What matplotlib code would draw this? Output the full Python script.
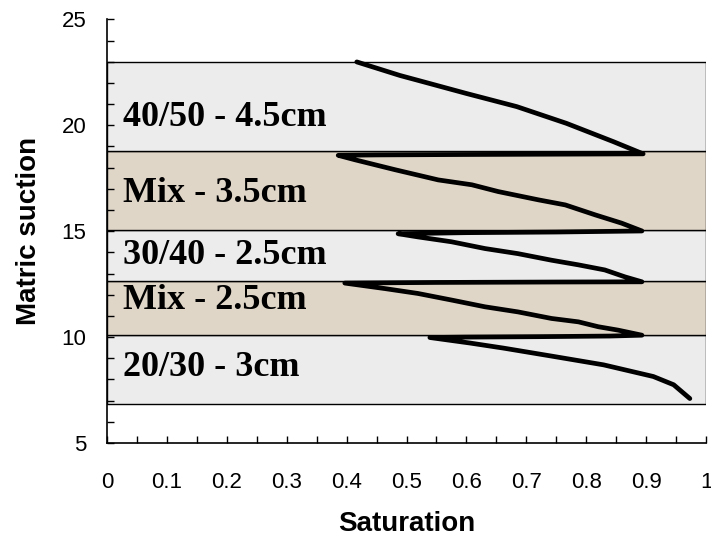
import matplotlib.pyplot as plt
from matplotlib.ticker import MultipleLocator

# soil layers (bottom, top, label, colour)
layer_bottom = [6.85, 10.1, 12.65, 15.05, 18.8]
layer_top = [10.1, 12.65, 15.05, 18.8, 23.0]
layer_label = ["20/30 - 3cm", "Mix - 2.5cm", "30/40 - 2.5cm", "Mix - 3.5cm", "40/50 - 4.5cm"]
layer_color = ["#ececec", "#e0d6c8", "#ececec", "#e0d6c8", "#ececec"]
label_y = [8.55, 11.75, 13.85, 16.8, 20.35]

# saturation profile
saturation = [0.417, 0.489, 0.527, 0.600, 0.684, 0.767, 0.845, 0.895,
              0.80, 0.60, 0.45, 0.386,
              0.414, 0.481, 0.553, 0.609, 0.653, 0.720, 0.765, 0.815, 0.859, 0.893,
              0.75, 0.60, 0.486,
              0.519, 0.575, 0.631, 0.686, 0.742, 0.787, 0.831, 0.865, 0.893,
              0.75, 0.55, 0.397,
              0.464, 0.519, 0.575, 0.631, 0.686, 0.742, 0.787, 0.820, 0.853, 0.893,
              0.84, 0.72, 0.60, 0.539,
              0.606, 0.662, 0.745, 0.829, 0.912, 0.946, 0.973]
suction = [22.99, 22.35, 22.06, 21.50, 20.88, 20.09, 19.23, 18.65,
           18.64, 18.62, 18.60, 18.58,
           18.37, 17.90, 17.42, 17.19, 16.87, 16.48, 16.24, 15.77, 15.38, 15.01,
           14.96, 14.93, 14.88,
           14.73, 14.50, 14.18, 13.94, 13.63, 13.41, 13.17, 12.84, 12.61,
           12.60, 12.58, 12.55,
           12.29, 12.06, 11.75, 11.43, 11.19, 10.88, 10.72, 10.49, 10.33, 10.09,
           10.05, 10.02, 10.00, 9.98,
           9.72, 9.48, 9.09, 8.69, 8.14, 7.75, 7.10]

xtick_labels = ["0", "0.1", "0.2", "0.3", "0.4", "0.5", "0.6", "0.7", "0.8", "0.9", "1"]

fig = plt.figure(figsize=(7.11, 5.37), dpi=100)
ax = fig.add_axes([0.1505, 0.175, 0.8425, 0.789])

for b, t, lab, c, ly in zip(layer_bottom, layer_top, layer_label, layer_color, label_y):
    ax.axhspan(b, t, xmin=0, xmax=1, facecolor=c, edgecolor="black", lw=1.0, zorder=1)
    ax.text(0.027, ly, lab, fontsize=26, fontweight="bold", family="Liberation Serif",
            va="center", ha="left", zorder=3)

ax.plot(saturation, suction, color="black", lw=3.4, solid_capstyle="round",
        solid_joinstyle="round", zorder=4)

ax.set_xlim(0, 1)
ax.set_ylim(5, 25)
ax.set_xticks([i / 10 for i in range(11)])
ax.set_xticklabels(xtick_labels)
ax.xaxis.set_minor_locator(MultipleLocator(0.05))
ax.yaxis.set_major_locator(MultipleLocator(5))
ax.yaxis.set_minor_locator(MultipleLocator(1))
ax.tick_params(which="both", direction="in", length=5, width=1, colors="black")
ax.tick_params(axis="x", which="major", pad=21, labelsize=16)
ax.tick_params(axis="y", which="major", pad=15, labelsize=16)

for s in ["top", "right"]:
    ax.spines[s].set_visible(False)
ax.spines["left"].set_linewidth(1.2)
ax.spines["bottom"].set_linewidth(1.2)

for lbl in ax.get_xticklabels() + ax.get_yticklabels():
    lbl.set_family("Liberation Sans")

ax.set_xlabel("Saturation", fontsize=20, fontweight="bold", family="Liberation Sans", labelpad=13)
ax.set_ylabel("Matric suction", fontsize=20, fontweight="bold", family="Liberation Sans", labelpad=14)

fig.savefig("out.png", dpi=100)
